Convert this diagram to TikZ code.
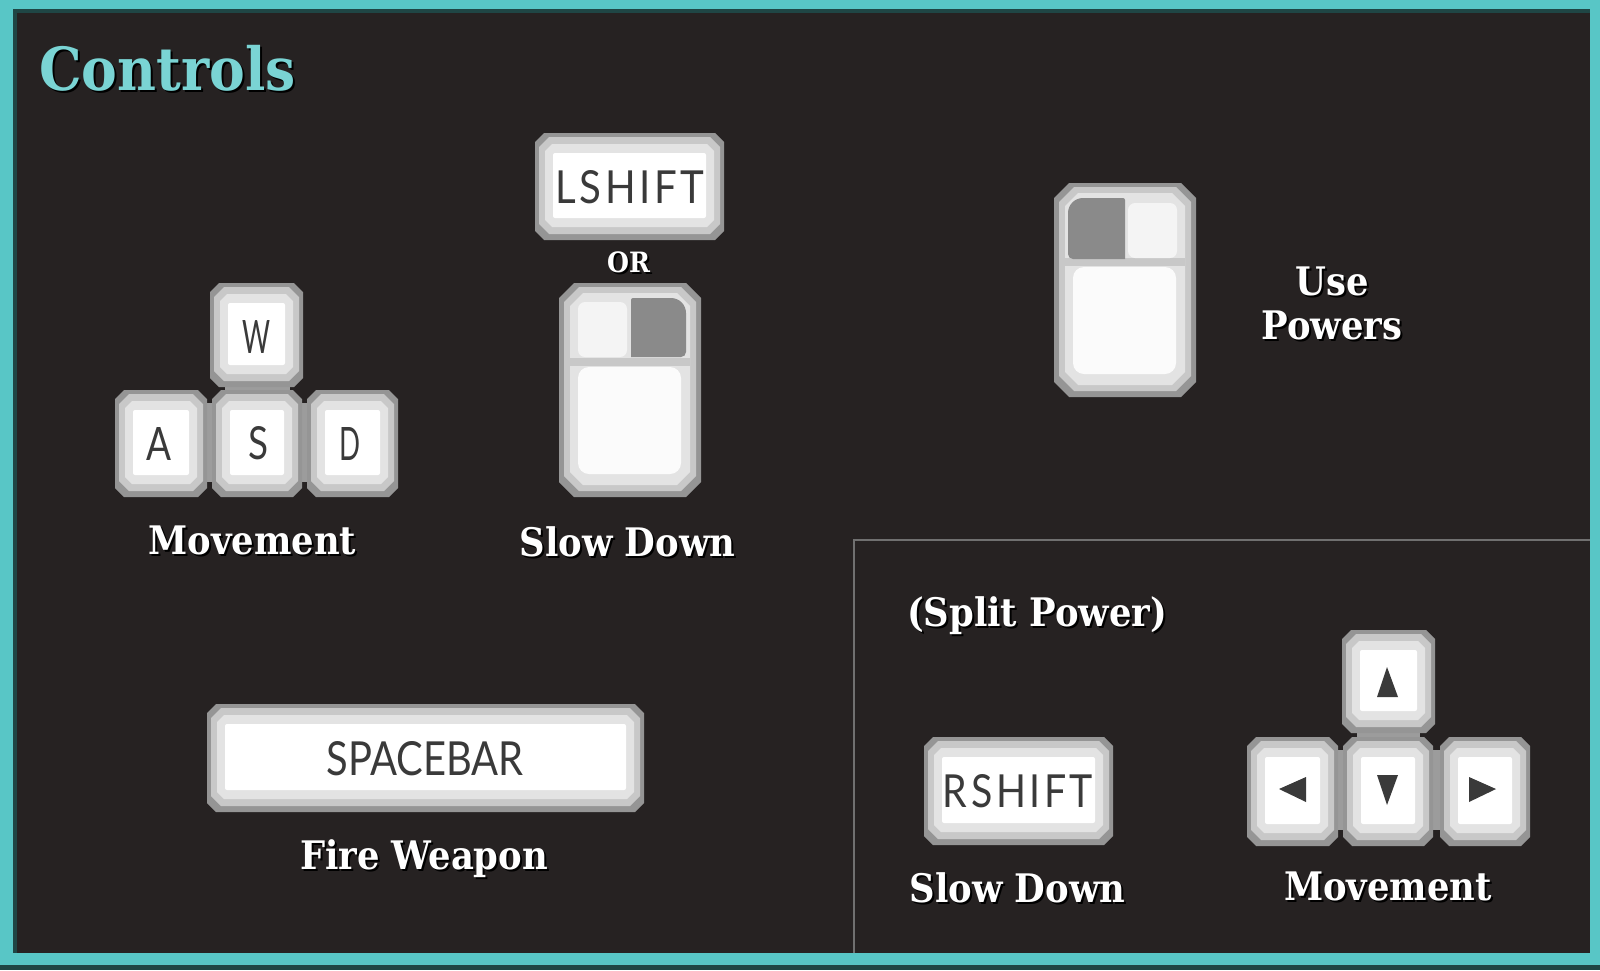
\documentclass[tikz,border=0pt]{standalone}
\usepackage{fontspec}
\setmainfont{DejaVu Serif Condensed}[BoldFont={DejaVu Serif Condensed Bold}]
\newfontfamily\keyfont{Lato}
\definecolor{bgdark}{HTML}{262222}
\definecolor{tealA}{HTML}{58C6C6}
\definecolor{tealB}{HTML}{1F4645}
\definecolor{tealT}{HTML}{7AD4D4}
\definecolor{capA}{HTML}{959595}
\definecolor{capB}{HTML}{C8C8C8}
\definecolor{capC}{HTML}{E3E3E3}
\definecolor{capJoin}{HTML}{9C9C9C}
\definecolor{capBtn}{HTML}{F4F4F4}
\definecolor{capBody}{HTML}{FBFBFB}
\definecolor{capDark}{HTML}{8A8A8A}
\definecolor{capInk}{HTML}{3A3A3A}
\definecolor{sepline}{HTML}{707070}
\newcommand{\octa}[6]{\fill[#1] ({#2+#6},{#3}) -- ({#4-#6},{#3}) -- ({#4},{#3+#6}) -- ({#4},{#5-#6}) -- ({#4-#6},{#5}) -- ({#2+#6},{#5}) -- ({#2},{#5-#6}) -- ({#2},{#3+#6}) -- cycle;}
\newcommand{\keycap}[4]{%
  \octa{capA}{#1}{#2}{#3}{#4}{9}
  \octa{capB}{#1+4}{#2+4}{#3-4}{#4-6}{10}
  \octa{capC}{#1+10}{#2+11}{#3-10}{#4-13}{7}
  \fill[white,rounded corners=2pt] ({#1+18},{#2+20}) rectangle ({#3-18},{#4-22});}
\newcommand{\mousebody}[2]{%
  \octa{capA}{#1}{#2}{#1+142}{#2+214}{15}
  \octa{capB}{#1+5}{#2+4}{#1+137}{#2+208}{15}
  \octa{capC}{#1+11}{#2+10}{#1+131}{#2+202}{13}
  \fill[capB] ({#1+11},{#2+75}) rectangle ({#1+131},{#2+83});
  \fill[capBody,rounded corners=11pt] ({#1+19},{#2+84}) rectangle ({#1+122},{#2+191});}
\newcommand{\shadowed}[1]{\leavevmode\rlap{\raisebox{-2pt}{\kern2pt\textcolor{black}{#1}}}#1}
\tikzset{
  lab/.style={anchor=base,inner sep=0pt,text=white,font=\fontsize{39.3}{44}\selectfont\bfseries},
  keytxt/.style={inner sep=0pt,text=capInk,font=\keyfont},
  arrowink/.style={fill=capInk}
}
\begin{document}
\begin{tikzpicture}[x=1pt,y=-1pt]
\useasboundingbox (0,0) rectangle (1600,970);
\fill[tealA] (0,0) rectangle (1600,970);
\fill[tealB] (0,965) rectangle (1600,970);
\fill[tealB] (13,9) rectangle (1590,953);
\fill[bgdark] (17,13) rectangle (1590,953);
% split panel
\draw[sepline,line width=2.2pt] (854,953) -- (854,540) -- (1590,540);
% title
\node[lab,anchor=base west,text=tealT,font=\fontsize{59.5}{64}\selectfont\bfseries] (title) at (39,90) {\shadowed{Controls}};
% WASD
\fill[capJoin] (225,375) rectangle (290,400);
\fill[capJoin] (200,403) rectangle (215,482);
\fill[capJoin] (298,403) rectangle (312,482);
\keycap{210}{283}{303}{387}
\keycap{115}{390}{207}{497}
\keycap{212}{390}{302}{497}
\keycap{307}{390}{398}{497}
\node[keytxt] (kw) at (256,337) {\resizebox{28pt}{33pt}{W}};
\node[keytxt] (ka) at (159,444) {\resizebox{25pt}{33pt}{A}};
\node[keytxt] (ks) at (258,443) {\resizebox{20pt}{33pt}{S}};
\node[keytxt] (kd) at (350,444) {\resizebox{21pt}{33pt}{D}};
\node[lab] (lmove) at (252.5,554) {\shadowed{Movement}};
% LSHIFT / mouse
\keycap{535}{133}{724}{240}
\node[keytxt] (klshift) at (630,187) {\resizebox{149pt}{33pt}{\addfontfeature{LetterSpace=9}LSHIFT}};
\node[lab,font=\fontsize{28}{32}\selectfont\bfseries] (lor) at (628.5,272) {\shadowed{OR}};
\mousebody{559}{283}
\fill[capBtn,rounded corners=7pt] (578,302) rectangle (627,357);
\fill[capDark] (631,357) [rounded corners=2pt] -- (631,298) [rounded corners=15pt] -- (686,298) [rounded corners=5pt] -- (686,357) [sharp corners] -- cycle;
\node[lab] (lslow) at (627.5,556) {\shadowed{Slow Down}};
% mouse use powers
\mousebody{1054}{183}
\fill[capBtn,rounded corners=7pt] (1128,203) rectangle (1177,258);
\fill[capDark] (1125,259) [rounded corners=2pt] -- (1125,198) [rounded corners=15pt] -- (1068,198) [rounded corners=5pt] -- (1068,259) [sharp corners] -- cycle;
\node[lab] (luse) at (1332,295) {\shadowed{Use}};
\node[lab] (lpow) at (1332,339) {\shadowed{Powers}};
% spacebar
\keycap{207}{704}{644}{812}
\node[keytxt] (kspace) at (425,759) {\resizebox{197pt}{34pt}{SPACEBAR}};
\node[lab] (lfire) at (424,869) {\shadowed{Fire Weapon}};
% split power
\node[lab] (lsplit) at (1037,626) {\shadowed{(Split Power)}};
\keycap{924}{737}{1113}{845}
\node[keytxt] (krshift) at (1018,791) {\resizebox{150pt}{33pt}{\addfontfeature{LetterSpace=9}RSHIFT}};
\node[lab] (lslowb) at (1017.5,902) {\shadowed{Slow Down}};
% arrow keys
\fill[capJoin] (1357,728) rectangle (1420,745);
\fill[capJoin] (1333,750) rectangle (1348,830);
\fill[capJoin] (1428,750) rectangle (1445,830);
\keycap{1342}{630}{1435}{733}
\keycap{1247}{737}{1338}{846}
\keycap{1343}{737}{1433}{846}
\keycap{1440}{737}{1530}{846}
\fill[arrowink] (1387,667) -- (1398,697) -- (1377,697) -- cycle;
\fill[arrowink] (1387,805) -- (1398,775) -- (1377,775) -- cycle;
\fill[arrowink] (1279,789) -- (1306,777) -- (1306,802) -- cycle;
\fill[arrowink] (1496,789) -- (1469,777) -- (1469,802) -- cycle;
\node[lab] (lmoveb) at (1388,900) {\shadowed{Movement}};
\end{tikzpicture}
\end{document}
